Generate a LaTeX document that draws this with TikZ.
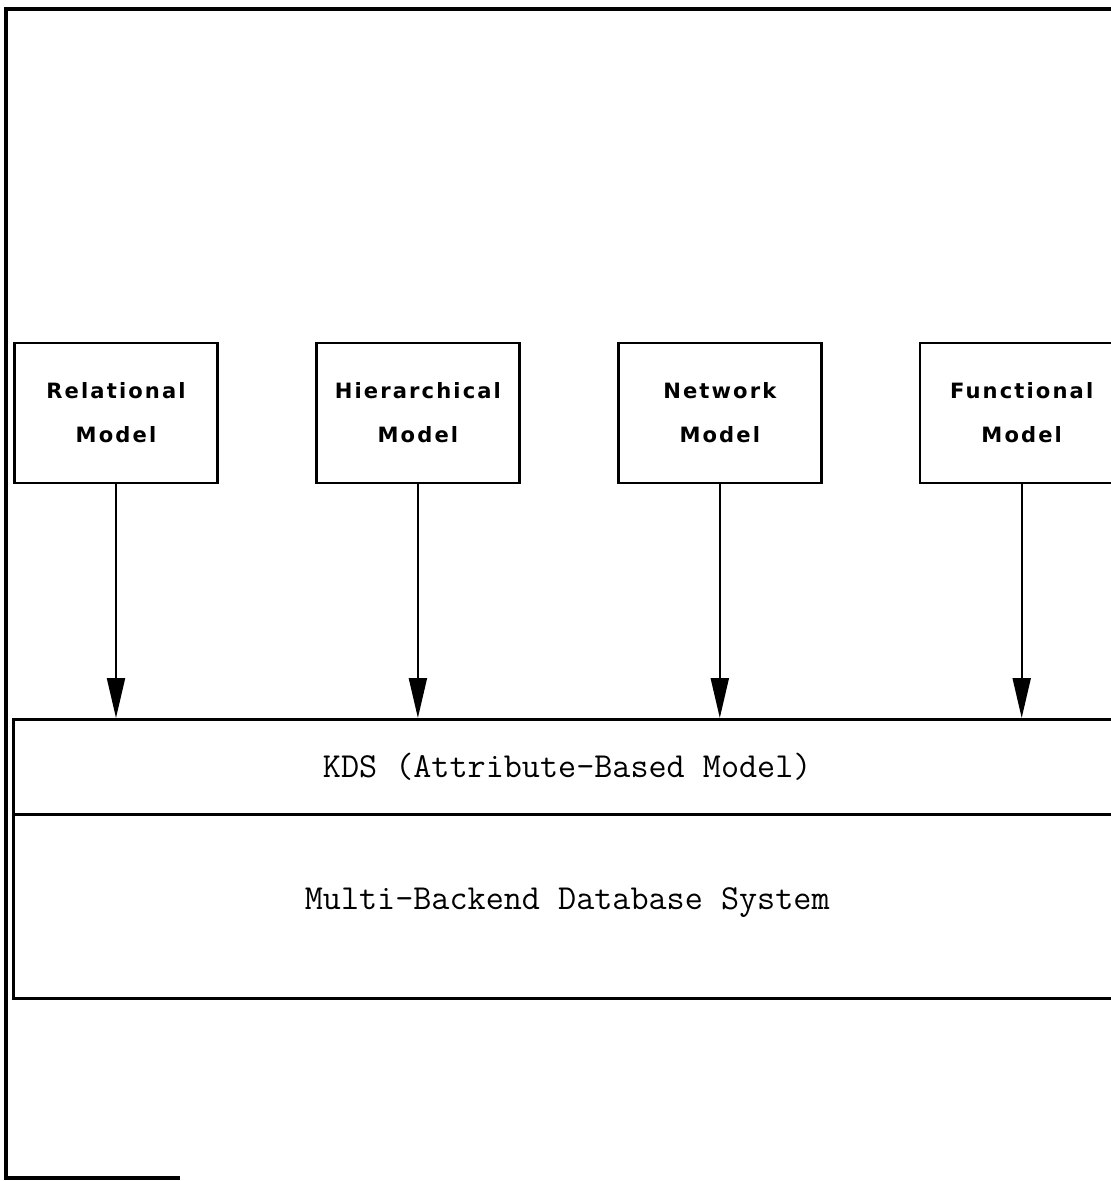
\documentclass[tikz,border=0pt]{standalone}
\usepackage{fontspec}
\newfontfamily\modelfont[LetterSpace=10]{DejaVu Sans}
\usetikzlibrary{arrows.meta,positioning}

\begin{document}
\begin{tikzpicture}
  [
    x = 0.02cm,
    y = -0.02cm,
    model/.style = {
      draw,
      line width = 1.4pt,
      minimum width = 4.06cm,
      minimum height = 2.8cm,
      align = center,
      font = \modelfont\bfseries\fontsize{12}{25}\selectfont,
    },
    layer/.style = {
      draw,
      line width = 1.5pt,
      minimum width = 22.16cm,
      font = \ttfamily\fontsize{20}{24}\selectfont,
    },
    > = {Triangle[width=0.36cm,length=0.8cm]},
  ]

  \useasboundingbox (0,0) rectangle (1111,1181);
  \clip (0,0) rectangle (1111,1181);

  % outer frame, cut off on the right
  \draw [line width = 1.8pt] (1120,9) -- (6,9) -- (6,1178) -- (180,1178);

  \node (rel) [model] at (116,413) {Relational\\Model};
  \node (hier) [model, right = 1.93cm of rel] {Hierarchical\\Model};
  \node (net) [model, right = 1.93cm of hier] {Network\\Model};
  \node (fun) [model, right = 1.93cm of net] {Functional\\Model};

  \node (kds) [layer, minimum height = 1.9cm, anchor = north west] at (12,718)
    {KDS (Attribute-Based Model)};
  \node (mbds) [layer, minimum height = 3.68cm, text depth = 0.3cm,
    below = -1.5pt of kds] {Multi-Backend Database System};

  \foreach \m in {rel,hier,net,fun}
    \draw [->, line width = 1.2pt] (\m.south) -- (\m.south |- kds.north);

\end{tikzpicture}
\end{document}
